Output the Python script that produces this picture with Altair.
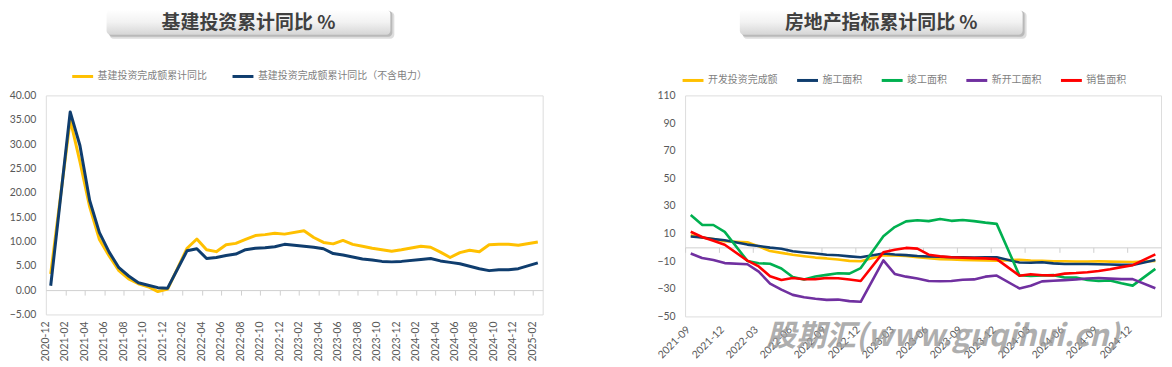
import altair as alt
import pandas as pd


def month_range(y0, m0, y1, m1):
    out = []
    y, m = y0, m0
    while (y, m) <= (y1, m1):
        out.append(f"{y}-{m:02d}")
        m += 1
        if m > 12:
            m, y = 1, y + 1
    return out


# ---------------- left chart data ----------------
left_months = month_range(2020, 12, 2025, 2)
left_names = ["基建投资完成额累计同比", "基建投资完成额累计同比（不含电力）"]
left_colors = ["#FFC000", "#0F3D6E"]

infra_total = [
    3.3,
    None, 35.0, 26.4, 17.1, 10.4, 7.0, 4.0, 2.3, 1.3, 0.7, -0.3, 0.2,
    None, 8.6, 10.5, 8.3, 7.9, 9.3, 9.6, 10.4, 11.2, 11.4, 11.7, 11.5,
    None, 12.2, 10.8, 9.8, 9.5, 10.2, 9.4, 9.0, 8.6, 8.3, 8.0, 8.3,
    None, 9.0, 8.8, 7.8, 6.7, 7.7, 8.2, 7.9, 9.3, 9.4, 9.4, 9.2,
    None, 9.9,
]
infra_ex_power = [
    0.9,
    None, 36.6, 29.7, 18.4, 11.8, 7.8, 4.6, 2.9, 1.5, 1.0, 0.5, 0.4,
    None, 8.1, 8.5, 6.5, 6.7, 7.1, 7.4, 8.3, 8.6, 8.7, 8.9, 9.4,
    None, 9.0, 8.8, 8.5, 7.5, 7.2, 6.8, 6.4, 6.2, 5.9, 5.8, 5.9,
    None, 6.3, 6.5, 6.0, 5.7, 5.4, 4.9, 4.4, 4.0, 4.2, 4.2, 4.4,
    None, 5.6,
]
left_ticks = [-5, 0, 5, 10, 15, 20, 25, 30, 35, 40]

# ---------------- right chart data ----------------
right_months = month_range(2021, 9, 2025, 2)
right_names = ["开发投资完成额", "施工面积", "竣工面积", "新开工面积", "销售面积"]
right_colors = ["#FFC000", "#0F3D6E", "#00B050", "#7030A0", "#FF0000"]

dev_invest = [
    8.8, 7.2, 6.0, 4.4,
    None, 3.7, 0.7, -2.7, -4.0, -5.4, -6.4, -7.4, -8.0, -8.8, -9.8, -10.0,
    None, -5.7, -5.8, -6.2, -7.2, -7.9, -8.5, -8.8, -9.1, -9.3, -9.4, -9.6,
    None, -9.0, -9.5, -9.8, -10.1, -10.1, -10.2, -10.2, -10.1, -10.3, -10.4, -10.6,
    None, -9.8,
]
construction = [
    7.9, 7.1, 6.1, 5.2,
    None, 2.0, 1.0, -0.2, -1.0, -2.8, -3.7, -4.5, -5.3, -5.7, -6.5, -7.2,
    None, -4.4, -5.2, -5.6, -6.2, -6.6, -6.8, -7.1, -7.1, -7.3, -7.2, -7.2,
    None, -11.0, -11.1, -10.8, -11.6, -12.0, -12.1, -12.0, -12.2, -12.4, -12.7, -12.7,
    None, -9.1,
]
completed = [
    23.4, 16.3, 16.2, 11.2,
    None, -9.8, -11.5, -11.9, -15.3, -21.5, -23.3, -21.1, -19.9, -18.7, -19.0, -15.0,
    None, 8.0, 14.7, 18.8, 19.6, 19.0, 20.5, 19.2, 19.8, 19.0, 17.9, 17.0,
    None, -20.2, -20.7, -20.4, -20.1, -21.8, -21.8, -23.6, -24.4, -23.9, -26.0, -27.7,
    None, -15.6,
]
new_starts = [
    -4.5, -7.7, -9.1, -11.4,
    None, -12.2, -17.5, -26.3, -30.6, -34.4, -36.1, -37.2, -38.0, -37.8, -38.9, -39.4,
    None, -9.4, -19.2, -21.2, -22.6, -24.3, -24.5, -24.4, -23.4, -23.2, -21.2, -20.4,
    None, -29.7, -27.8, -24.6, -24.2, -23.7, -23.2, -22.5, -22.2, -22.6, -23.0, -23.0,
    None, -29.6,
]
sales = [
    11.3, 7.5, 4.8, 1.9,
    None, -9.6, -13.8, -20.9, -23.6, -22.2, -23.1, -23.0, -22.2, -22.3, -23.3, -24.3,
    None, -3.6, -1.8, -0.4, -0.9, -5.3, -6.5, -7.1, -7.5, -7.8, -8.0, -8.5,
    None, -20.5, -19.4, -20.2, -20.3, -19.0, -18.6, -18.0, -17.1, -15.8, -14.3, -12.9,
    None, -5.1,
]
right_ticks = [-50, -30, -10, 10, 30, 50, 70, 90, 110]

left_title = "基建投资累计同比 %"
right_title = "房地产指标累计同比 %"
watermark = "股期汇(www.guqihui.cn)"


def to_long(months, names, series):
    rows = []
    for name, vals in zip(names, series):
        for m, v in zip(months, vals):
            if v is not None:
                rows.append({"month": m, "series": name, "value": v})
    return pd.DataFrame(rows)


dfL = to_long(left_months, left_names, [infra_total, infra_ex_power])
dfR = to_long(right_months, right_names,
              [dev_invest, construction, completed, new_starts, sales])

LABEL_FONT = "Lato"
CJK = "Noto Sans CJK SC"
L_W, L_H = 499, 220
R_W, R_H = 478, 222
one = pd.DataFrame({"k": [0]})


def title_layers(x0, x1, text):
    base = alt.Chart(one)
    sh2 = base.mark_rect(fill="#c8c8c8", opacity=0.6, cornerRadius=4).encode(
        x=alt.value(x0 + 3), x2=alt.value(x1 + 4), y=alt.value(-84), y2=alt.value(-57))
    sh1 = base.mark_rect(fill="#a0a0a0", opacity=0.6, cornerRadius=4).encode(
        x=alt.value(x0 + 2), x2=alt.value(x1 + 2), y=alt.value(-85), y2=alt.value(-59))
    box = base.mark_rect(
        cornerRadius=4,
        fill=alt.Gradient(gradient="linear",
                          stops=[alt.GradientStop(color="#ffffff", offset=0),
                                 alt.GradientStop(color="#f2f2f2", offset=0.5),
                                 alt.GradientStop(color="#d6d6d6", offset=1)],
                          x1=0, x2=0, y1=0, y2=1),
    ).encode(x=alt.value(x0), x2=alt.value(x1), y=alt.value(-86), y2=alt.value(-61))
    txt = base.mark_text(text=text, font=CJK, fontSize=19, fontWeight="bold",
                         color="#404040", align="center", baseline="middle").encode(
        x=alt.value((x0 + x1) / 2), y=alt.value(-73))
    return [sh2, sh1, box, txt]


def panel(df, months, names, colors, yticks, ydom, W, H, every, angle, fmt,
          leg_x, leg_y, col_pad, strokew, lab_pad_x, axis_labels=True):
    xs = alt.Scale(type="band", domain=months, paddingInner=0, paddingOuter=0)
    ys = alt.Scale(domain=ydom, nice=False, zero=False)
    zero_off = -H * (0 - ydom[0]) / (ydom[1] - ydom[0])
    half = -W / len(months) / 2
    shown = months[::every]
    axis_layer = alt.Chart(df).mark_point(opacity=0).encode(
        x=alt.X("month:N", scale=xs, axis=alt.Axis(
            orient="bottom", offset=zero_off, values=shown, tickOffset=half,
            labels=False, domain=True, domainColor="#d0d0d0", ticks=True,
            tickColor="#d0d0d0", tickSize=5, grid=False, title=None)),
        y=alt.Y("value:Q", scale=ys, axis=None),
    )
    if axis_labels:
        xaxis = alt.Axis(
            orient="bottom", values=shown, labelOffset=half,
            labelAngle=angle, domain=False, ticks=False, grid=False,
            labelPadding=lab_pad_x, labelOverlap=False, labelBound=200,
            labelFont=LABEL_FONT, labelFontSize=10.5, labelColor="#595959", title=None)
    else:
        xaxis = None
    lines = alt.Chart(df).mark_line(strokeWidth=strokew, strokeJoin="round").encode(
        x=alt.X("month:N", scale=xs, axis=xaxis),
        y=alt.Y("value:Q", scale=ys, axis=alt.Axis(
            values=yticks, format=fmt, ticks=False, domain=False, gridColor="#d9d9d9",
            labelPadding=10, labelFont=LABEL_FONT, labelFontSize=10.5,
            labelColor="#595959", title=None)),
        color=alt.Color("series:N", scale=alt.Scale(domain=names, range=colors),
                        legend=alt.Legend(
                            orient="none", legendX=leg_x, legendY=leg_y,
                            direction="horizontal", columns=len(names), title=None,
                            symbolType="stroke", symbolSize=441, symbolStrokeWidth=3,
                            labelFont=CJK, labelFontSize=10, labelColor="#7f7f7f",
                            columnPadding=col_pad, labelOffset=3, labelLimit=400)),
    )
    layers = [axis_layer, lines]
    if not axis_labels:
        lab_df = pd.DataFrame({"month": shown})
        labs = alt.Chart(lab_df).mark_text(
            angle=270, align="right", baseline="middle", font=LABEL_FONT,
            fontSize=10.5, color="#595959").encode(
            x=alt.X("month:N", scale=xs, bandPosition=0, axis=None),
            y=alt.value(H + lab_pad_x),
            text="month:N",
        )
        layers.append(labs)
    return layers


layersL = panel(dfL, left_months, left_names, left_colors, left_ticks,
                [-5, 40], L_W, L_H, 2, -90, ".2f", 25, -31, 19, 3, 7,
                axis_labels=False)
layersR = panel(dfR, right_months, right_names, right_colors, right_ticks,
                [-50, 110], R_W, R_H, 3, -45, "d", -4, -27, 13, 2.6, 8)

wm = alt.Chart(one).mark_text(text=watermark, font=CJK, fontSize=30, fontWeight="bold",
                              fontStyle="italic", color="#9a9a9a", opacity=0.8,
                              align="center", baseline="middle").encode(
    x=alt.value(259), y=alt.value(R_H + 21))

left = alt.layer(*title_layers(61, 346, left_title), *layersL).resolve_axis(
    x="independent", y="independent").properties(width=L_W, height=L_H)
right = alt.layer(*title_layers(55, 339, right_title), *layersR, wm).resolve_axis(
    x="independent", y="independent").properties(width=R_W, height=R_H)

chart = alt.hconcat(left, right, spacing=143, bounds="flush").resolve_scale(
    color="independent", x="independent", y="independent").resolve_legend(
    color="independent").properties(
    padding={"left": 0, "top": 0, "right": 2, "bottom": 2}).configure_view(
    stroke=None).configure(background="white")

chart.save("out.html", embed_options={"renderer": "svg", "actions": False})
